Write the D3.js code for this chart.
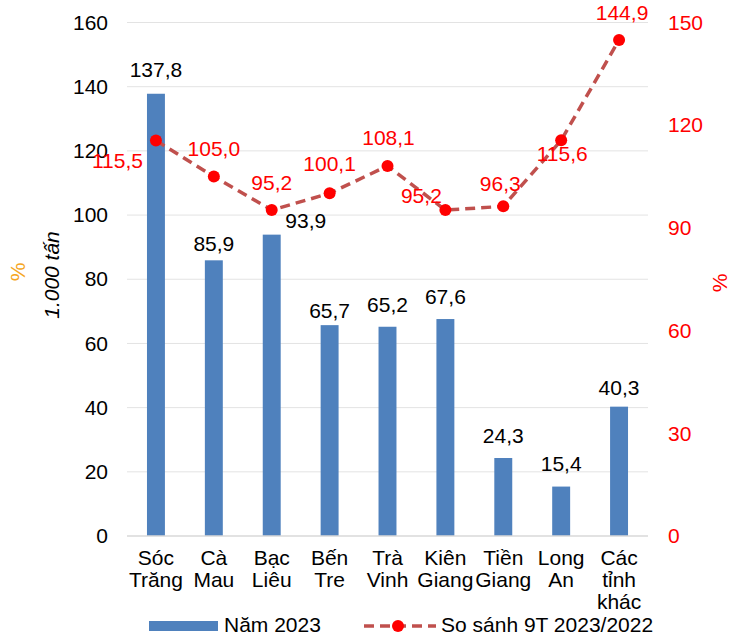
<!DOCTYPE html>
<html>
<head>
<meta charset="utf-8">
<script src="https://cdn.jsdelivr.net/npm/d3@7"></script>
<style>
  html, body { margin: 0; padding: 0; background: #fff; }
  svg text { font-family: "Liberation Sans", Arial, sans-serif; }
</style>
</head>
<body>
<svg id="chart" width="730" height="635"></svg>
<script>
// ---- data ----
const categories = ["Sóc Trăng", "Cà Mau", "Bạc Liêu", "Bến Tre", "Trà Vinh", "Kiên Giang", "Tiền Giang", "Long An", "Các tỉnh khác"];
const categoryLines = [["Sóc", "Trăng"], ["Cà", "Mau"], ["Bạc", "Liêu"], ["Bến", "Tre"], ["Trà", "Vinh"], ["Kiên", "Giang"], ["Tiền", "Giang"], ["Long", "An"], ["Các", "tỉnh", "khác"]];
const volume2023 = [137.8, 85.9, 93.9, 65.7, 65.2, 67.6, 24.3, 15.4, 40.3];
const compare9T = [115.5, 105.0, 95.2, 100.1, 108.1, 95.2, 96.3, 115.6, 144.9];
const leftTicks = [0, 20, 40, 60, 80, 100, 120, 140, 160];
const rightTicks = [0, 30, 60, 90, 120, 150];
const seriesNames = ["Năm 2023", "So sánh 9T 2023/2022"];
const leftTitle = "1.000 tấn";
const leftTitle2 = "%";
const rightTitle = "%";

// ---- layout (label nudges, not data) ----
const barLabelNudge = [[0, 17], [0, 9], [34, 7], [0, 7], [0, 15], [0, 15], [0, 15], [0, 15.5], [0, 12]]; // [dx, gap above bar]
const lineLabelNudge = [[-13, 20, "end"], [0, -28, "middle"], [0, -28, "middle"], [0, -30, "middle"], [1, -28, "middle"], [-24, -15, "middle"], [-3, -23, "middle"], [1, 13, "middle"], [3, -27, "middle"]];

const fmt = v => d3.format(".1f")(v).replace(".", ",");

const svg = d3.select("#chart");
const plot = { left: 127, right: 648, top: 22.5, bottom: 536 };

const x = d3.scaleBand().domain(categories).range([plot.left, plot.right]).paddingInner(0.69).paddingOuter(0.345);
const yL = d3.scaleLinear().domain([0, 160]).range([plot.bottom, plot.top]);
const yR = d3.scaleLinear().domain([0, 150]).range([plot.bottom, plot.top]);
const cx = c => x(c) + x.bandwidth() / 2;

const FS = 21;
const HALF = 7.5;

// gridlines
svg.append("g").selectAll("line").data(leftTicks.filter(t => t > 0)).join("line")
  .attr("x1", plot.left).attr("x2", plot.right)
  .attr("y1", d => yL(d)).attr("y2", d => yL(d))
  .attr("stroke", "#e3e3e3").attr("stroke-width", 1);

// left axis
const axL = svg.append("g").attr("transform", `translate(${plot.left},0)`)
  .call(d3.axisLeft(yL).tickValues(leftTicks).tickSize(0).tickPadding(19).tickFormat(d3.format("d")));
axL.select(".domain").remove();
axL.selectAll("text").attr("font-size", FS).attr("fill", "#000").attr("font-family", "Liberation Sans, Arial, sans-serif");

// right axis
const axR = svg.append("g").attr("transform", `translate(${plot.right},0)`)
  .call(d3.axisRight(yR).tickValues(rightTicks).tickSize(0).tickPadding(20).tickFormat(d3.format("d")));
axR.select(".domain").remove();
axR.selectAll("text").attr("font-size", FS).attr("fill", "#ff0000").attr("font-family", "Liberation Sans, Arial, sans-serif");

// bars
svg.append("g").selectAll("rect").data(volume2023).join("rect")
  .attr("x", (d, i) => x(categories[i]))
  .attr("width", x.bandwidth())
  .attr("y", d => yL(d))
  .attr("height", d => yL(0) - yL(d))
  .attr("fill", "#4f81bd");

// x axis baseline
svg.append("line").attr("x1", plot.left).attr("x2", plot.right)
  .attr("y1", plot.bottom).attr("y2", plot.bottom)
  .attr("stroke", "#d9d9d9").attr("stroke-width", 1.5);

// bar labels
svg.append("g").selectAll("text").data(volume2023).join("text")
  .attr("x", (d, i) => cx(categories[i]) + barLabelNudge[i][0])
  .attr("y", (d, i) => yL(d) - barLabelNudge[i][1])
  .attr("text-anchor", "middle").attr("font-size", FS).attr("fill", "#000")
  .text(d => fmt(d));

// line
const line = d3.line().x((d, i) => cx(categories[i])).y(d => yR(d));
svg.append("path").datum(compare9T).attr("d", line)
  .attr("fill", "none").attr("stroke", "#c0504d").attr("stroke-width", 3.5)
  .attr("stroke-dasharray", "10,6");
svg.append("g").selectAll("circle").data(compare9T).join("circle")
  .attr("cx", (d, i) => cx(categories[i])).attr("cy", d => yR(d)).attr("r", 6)
  .attr("fill", "#ff0000");

// line labels
svg.append("g").selectAll("text").data(compare9T).join("text")
  .attr("x", (d, i) => cx(categories[i]) + lineLabelNudge[i][0])
  .attr("y", (d, i) => yR(d) + lineLabelNudge[i][1] + HALF)
  .attr("text-anchor", (d, i) => lineLabelNudge[i][2])
  .attr("font-size", FS).attr("fill", "#ff0000")
  .text(d => fmt(d));

// category labels
const cat = svg.append("g").selectAll("text").data(categories).join("text")
  .attr("text-anchor", "middle").attr("font-size", FS).attr("fill", "#000");
cat.each(function(c, i) {
  const t = d3.select(this);
  categoryLines[i].forEach((ln, j) => {
    t.append("tspan").attr("x", cx(c)).attr("y", 565 + j * 22).text(ln);
  });
});

// axis titles
svg.append("text").attr("transform", "translate(59,275) rotate(-90)")
  .attr("text-anchor", "middle").attr("font-size", FS).attr("font-style", "italic").attr("fill", "#000")
  .text(leftTitle);
svg.append("text").attr("transform", "translate(25,272) rotate(-90)")
  .attr("text-anchor", "middle").attr("font-size", FS).attr("fill", "#f5a623")
  .text(leftTitle2);
svg.append("text").attr("transform", "translate(727,283) rotate(-90)")
  .attr("text-anchor", "middle").attr("font-size", FS).attr("fill", "#ff0000")
  .text(rightTitle);

// legend
const lg = svg.append("g");
lg.append("rect").attr("x", 149).attr("y", 621).attr("width", 69).attr("height", 10).attr("fill", "#4f81bd");
lg.append("text").attr("x", 224).attr("y", 631.5).attr("font-size", FS).attr("fill", "#000").text(seriesNames[0]);
lg.append("line").attr("x1", 364).attr("x2", 436).attr("y1", 626).attr("y2", 626)
  .attr("stroke", "#c0504d").attr("stroke-width", 3.5).attr("stroke-dasharray", "10,6");
lg.append("circle").attr("cx", 398).attr("cy", 626).attr("r", 6).attr("fill", "#ff0000");
lg.append("text").attr("x", 441).attr("y", 631.5).attr("font-size", FS).attr("fill", "#000").text(seriesNames[1]);
</script>
</body>
</html>
